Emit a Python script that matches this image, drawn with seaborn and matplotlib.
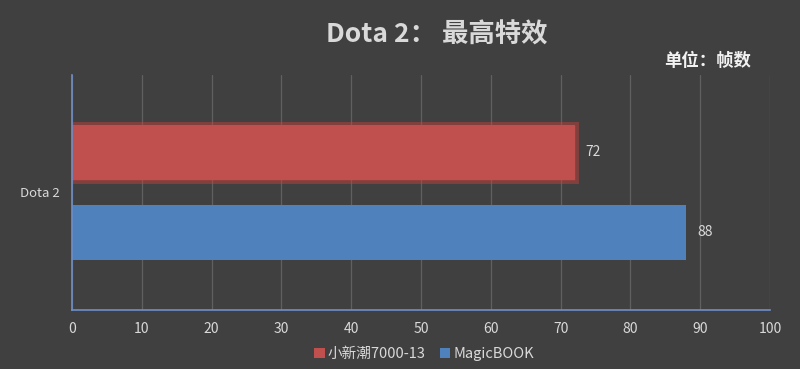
import matplotlib
matplotlib.use("Agg")
import matplotlib.pyplot as plt
import seaborn as sns
import pandas as pd
import matplotlib.patheffects as pe

categories = ["Dota 2"]
series_names = ["小新潮7000-13", "MagicBOOK"]
values_xx = [72]
values_mb = [88]
colors = ["#C0504D", "#4F81BD"]
x_ticks = [0, 10, 20, 30, 40, 50, 60, 70, 80, 90, 100]

df = pd.DataFrame({
    "game": categories * 2,
    "device": [series_names[0]] * len(categories) + [series_names[1]] * len(categories),
    "fps": values_xx + values_mb,
})

sns.set_theme(style="dark")
plt.rcParams['font.family'] = ['Noto Sans CJK SC', 'DejaVu Sans']
bg = "#404040"
txt = "#D9D9D9"

fig = plt.figure(figsize=(8, 3.69), dpi=100, facecolor=bg)
ax = fig.add_axes([0.09, 0.16, 0.8725, 0.637])
ax.set_facecolor(bg)

sns.barplot(data=df, y="game", x="fps", hue="device", palette=colors,
            orient="h", width=0.68, gap=0.32, saturation=1, ax=ax, legend=True,
            linewidth=0, edgecolor="none")

ax.set_xlim(0, 100)
ax.set_ylim(0.5, -0.5)
ax.set_xticks(x_ticks)
ax.set_xticklabels([str(t) for t in x_ticks], color=txt, fontsize=10)
ax.tick_params(axis='y', colors=txt, labelsize=9.5, length=0, pad=8.6)
ax.tick_params(axis='x', length=0, pad=9)
ax.grid(axis='x', color="#606060", linewidth=0.9)
ax.grid(axis='y', visible=False)
ax.set_axisbelow(True)
ax.set_xlabel("")
ax.set_ylabel("")
for s in ["top", "right"]:
    ax.spines[s].set_visible(False)
for s in ["left", "bottom"]:
    ax.spines[s].set_visible(True)
    ax.spines[s].set_color("#6F8FC8")
    ax.spines[s].set_linewidth(1.2)

# glow on the first series
for i, cont in enumerate(ax.containers):
    for bar in cont:
        bar.set_edgecolor("none")
        bar.set_linewidth(0)
        if i == 0:
            bar.set_path_effects([pe.Stroke(linewidth=5, foreground="#D0403A", alpha=0.45), pe.Normal()])
    ax.bar_label(cont, labels=[f"{v:g}" for v in cont.datavalues], padding=8, color=txt, fontsize=10)

handles, labels = ax.get_legend_handles_labels()
ax.get_legend().remove()
fig.legend(handles, labels, loc="center", bbox_to_anchor=(0.53, 0.04), ncol=2, frameon=False,
           labelcolor=txt, fontsize=10.5, handlelength=0.7, handleheight=0.7, handletextpad=0.2,
           columnspacing=1.0)

fig.text(0.546, 0.905, "Dota 2： 最高特效", ha="center", va="center", color=txt,
         fontsize=19, fontweight="bold")
fig.text(0.884, 0.835, "单位：帧数", ha="center", va="center", color="#F2F2F2",
         fontsize=12.5, fontweight="bold")

fig.savefig("out.png", dpi=100, facecolor=bg)
